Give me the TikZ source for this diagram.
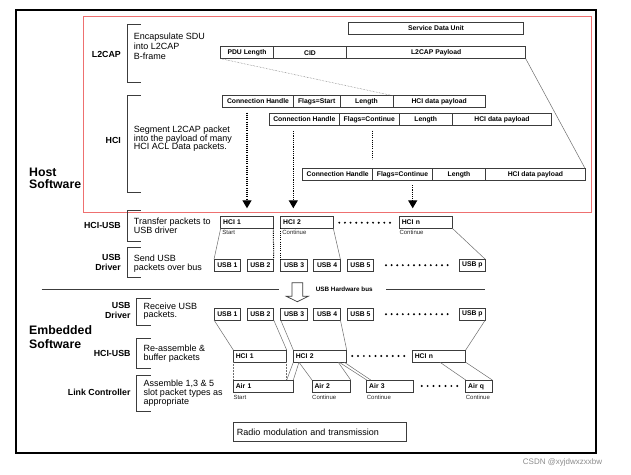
\documentclass[tikz,border=0pt]{standalone}
\usepackage{fontspec}
\setmainfont{Liberation Sans}
\usetikzlibrary{arrows.meta,calc}
\definecolor{redframe}{RGB}{238,112,112}
\definecolor{boxline}{RGB}{60,60,60}
\definecolor{conncol}{RGB}{110,110,110}
\begin{document}
\begin{tikzpicture}[x=1pt,y=-1pt,
 fld/.style={draw=boxline, line width=0.75pt, inner sep=0pt, outer sep=0pt, anchor=north west, font=\bfseries\fontsize{6.8}{8}\selectfont},
 lfld/.style={fld, align=left, inner xsep=2.5pt},
 small/.style={inner sep=0pt, anchor=north west, text=black!85, font=\fontsize{6}{7}\selectfont},
 sect/.style={inner sep=0pt, align=right, font=\bfseries\fontsize{8.8}{9.8}\selectfont},
 desc/.style={inner sep=0pt, anchor=north west, align=left, font=\fontsize{9}{8.7}\selectfont},
 big/.style={inner sep=0pt, anchor=north west, align=left, font=\bfseries\fontsize{12.3}{12}\selectfont},
 brk/.style={draw=boxline, line width=0.8pt},
 conn/.style={draw=conncol, line width=0.5pt},
 dconn/.style={conn, densely dotted},
 blkdot/.style={draw=black, line width=1.1pt, dash pattern=on 1.1pt off 1.1pt},
 dotarrow/.style={blkdot, line width=1.3pt, -{Triangle[width=9pt,length=8pt]}},
]
\fill[white] (0,0) rectangle (631,474);
\useasboundingbox (0,0) rectangle (631,474);

% frames
\draw[black, line width=1.1pt] (16,10) rectangle (596,453);
\draw[redframe, line width=0.9pt] (83,16) rectangle (591,212.7);

% big labels
\node[big] (host) at (29,167.6) {Host\\Software};
\node[big, font=\bfseries\fontsize{12.3}{13.3}\selectfont] (emb) at (29,325.6) {Embedded\\Software};

% section labels (host)
\node[sect, anchor=east] (sl2cap) at (121,54) {L2CAP};
\node[sect, anchor=east] (shci) at (121,140) {HCI};
\node[sect, anchor=east] (shciusb) at (121,225.7) {HCI-USB};
\node[sect, anchor=north east] (susbdrv) at (121,254.3) {USB\\Driver};
% section labels (embedded)
\node[sect, anchor=north east] (eusbdrv) at (130.7,302.6) {USB\\Driver};
\node[sect, anchor=east] (ehciusb) at (130.7,353.3) {HCI-USB};
\node[sect, anchor=east] (elc) at (130.7,392.7) {Link Controller};

% brackets
\draw[brk] (140.7,24.7) -- (127.7,24.7) -- (127.7,82.7) -- (140.7,82.7);
\draw[brk] (140.7,95.7) -- (127.7,95.7) -- (127.7,192.3) -- (140.7,192.3);
\draw[brk] (140.7,210) -- (127.7,210) -- (127.7,241) -- (140.7,241);
\draw[brk] (140.7,247.3) -- (127.7,247.3) -- (127.7,277.3) -- (140.7,277.3);
\draw[brk] (150.7,298) -- (136.7,298) -- (136.7,325.7) -- (150.7,325.7);
\draw[brk] (150.7,338.3) -- (136.7,338.3) -- (136.7,368.3) -- (150.7,368.3);
\draw[brk] (150.7,375) -- (136.7,375) -- (136.7,411) -- (150.7,411);

% descriptions
\node[desc, font=\fontsize{9}{10}\selectfont] (d1) at (133.7,32.4) {Encapsulate SDU\\into L2CAP\\B-frame};
\node[desc] (d2) at (133.7,125.7) {Segment L2CAP packet\\into the payload of many\\HCI ACL Data packets.};
\node[desc, font=\fontsize{9}{8}\selectfont] (d3) at (133.7,217.4) {Transfer packets to\\USB driver};
\node[desc] (d4) at (133.7,255) {Send USB\\packets over bus};
\node[desc] (d5) at (143.3,302.4) {Receive USB\\packets.};
\node[desc, font=\fontsize{9}{8.4}\selectfont] (d6) at (143.3,345) {Re-assemble \&\\buffer packets};
\node[desc] (d7) at (143.3,380) {Assemble 1,3 \& 5\\slot packet types as\\appropriate};

% L2CAP frame
\node[fld, minimum width=175.4pt, minimum height=12.4pt] (sdu) at (348.3,22.3) {Service Data Unit};
\node[fld, minimum width=52.6pt, minimum height=12pt] (pdu) at (220.7,46.7) {PDU Length};
\node[fld, minimum width=73.4pt, minimum height=12pt] (cid) at (273.3,46.7) {CID};
\node[fld, minimum width=179pt, minimum height=12pt] (lpay) at (346.7,46.7) {L2CAP Payload};

% HCI rows
\node[fld, minimum width=70.6pt, minimum height=11.6pt] (r1ch) at (222.7,95.7) {Connection Handle};
\node[fld, minimum width=46.7pt, minimum height=11.6pt] (r1fl) at (293.3,95.7) {Flags=Start};
\node[fld, minimum width=53pt, minimum height=11.6pt] (r1len) at (340,95.7) {Length};
\node[fld, minimum width=92.3pt, minimum height=11.6pt] (r1pay) at (393,95.7) {HCI data payload};

\node[fld, minimum width=70pt, minimum height=12.4pt] (r2ch) at (269.3,113.3) {Connection Handle};
\node[fld, minimum width=60pt, minimum height=12.4pt] (r2fl) at (339.3,113.3) {Flags=Continue};
\node[fld, minimum width=53pt, minimum height=12.4pt] (r2len) at (399.3,113.3) {Length};
\node[fld, minimum width=99.4pt, minimum height=12.4pt] (r2pay) at (452.3,113.3) {HCI data payload};

\node[fld, minimum width=70pt, minimum height=12pt] (r3ch) at (302.7,168.3) {Connection Handle};
\node[fld, minimum width=59.6pt, minimum height=12pt] (r3fl) at (372.7,168.3) {Flags=Continue};
\node[fld, minimum width=53.4pt, minimum height=12pt] (r3len) at (432.3,168.3) {Length};
\node[fld, minimum width=99.3pt, minimum height=12pt] (r3pay) at (485.7,168.3) {HCI data payload};

\draw[dconn] (pdu.south west) -- (r1pay.north west);
\draw[conn] (lpay.south east) -- (r3pay.north east);

% dotted arrows
\coordinate (a1s) at (247,112.7); \coordinate (a1e) at (247,208.3);
\coordinate (a2s) at (293.3,131); \coordinate (a2e) at (293.3,208.3);
\coordinate (a3s) at (412.7,185); \coordinate (a3e) at (412.7,208.3);
\coordinate (v1s) at (372.7,130.7); \coordinate (v1e) at (372.7,159.3);
\draw[dotarrow] (a1s) -- (a1e);
\draw[dotarrow] (a2s) -- (a2e);
\draw[dotarrow] (a3s) -- (a3e);
\draw[blkdot, line width=1.3pt] (v1s) -- (v1e);

% host HCI-USB
\node[lfld, text width=47.6pt, minimum height=11.6pt] (hh1) at (220.7,216.7) {HCI 1};
\node[lfld, text width=47.6pt, minimum height=11.6pt] (hh2) at (280.7,216.7) {HCI 2};
\node[lfld, text width=48pt, minimum height=11.6pt] (hhn) at (399.3,216.7) {HCI n};
\node[small] (hh1l) at ([xshift=1.5pt,yshift=-2pt]hh1.south west) {Start};
\node[small] (hh2l) at ([xshift=1.5pt,yshift=-2pt]hh2.south west) {Continue};
\node[small] (hhnl) at ([xshift=0pt,yshift=-2pt]hhn.south west) {Continue};
\foreach \i in {0,...,9} \fill (339.3+\i*5.63,222.7) circle (1.1);

% host USB
\foreach \n/\x in {1/214,2/247,3/280.7,4/313.7,5/347}
  \node[fld, minimum width=26.7pt, minimum height=11.7pt] (ua\n) at (\x,259.3) {USB \n};
\node[fld, minimum width=26pt, minimum height=11.7pt] (uap) at (459.3,259.3) {USB p};
\foreach \i in {0,...,11} \fill (386+\i*5.6,265.2) circle (1.1);

\draw[conn] (hh1.south west) -- (ua1.north west);
\draw[blkdot, line width=1pt] (hh1.south east) -- (ua2.north east);
\draw[blkdot, line width=1pt] (hh2.south west) -- (ua3.north west);
\draw[conn] (hh2.south east) -- (ua4.north east);
\draw[conn] (hhn.south east) -- (uap.north east);

% separator and hardware bus
\coordinate (sepA) at (41.7,289); \coordinate (sepB) at (279.3,289);
\coordinate (sepC) at (386,289); \coordinate (sepD) at (485.3,289);
\draw[brk, line width=0.7pt] (sepA) -- (sepB);
\draw[brk, line width=0.7pt] (sepC) -- (sepD);
\node[inner sep=0pt, font=\bfseries\fontsize{6.3}{7}\selectfont] (hwbus) at (344.3,289) {USB Hardware bus};
\draw[boxline, line width=0.7pt, fill=white] (292,282.7) -- (302.7,282.7) -- (302.7,296.3) -- (308.3,296.3) -- (297.3,301.7) -- (286.3,296.3) -- (292,296.3) -- cycle;

% embedded USB
\foreach \n/\x in {1/214,2/247,3/280.7,4/313.7,5/347}
  \node[fld, minimum width=26.7pt, minimum height=11.7pt] (ub\n) at (\x,308.3) {USB \n};
\node[fld, minimum width=26pt, minimum height=11.7pt] (ubp) at (459.3,308.3) {USB p};
\foreach \i in {0,...,11} \fill (386+\i*5.6,314.2) circle (1.1);

% embedded HCI
\node[lfld, text width=48.4pt, minimum height=12.3pt] (eh1) at (233.3,350) {HCI 1};
\node[lfld, text width=48.4pt, minimum height=12.3pt] (eh2) at (293.3,350) {HCI 2};
\node[lfld, text width=48.4pt, minimum height=12.3pt] (ehn) at (412.3,350) {HCI n};
\foreach \i in {0,...,9} \fill (352.3+\i*5.78,356) circle (1.1);

% air packets
\node[lfld, text width=55pt, minimum height=12.7pt] (air1) at (233.3,380) {Air 1};
\node[lfld, text width=33.7pt, minimum height=12.7pt] (air2) at (312,380) {Air 2};
\node[lfld, text width=41.6pt, minimum height=12.7pt] (air3) at (366.7,380) {Air 3};
\node[lfld, text width=21.6pt, minimum height=12.7pt] (airq) at (465.7,380) {Air q};
\node[small] (air1l) at ([yshift=-2pt]air1.south west) {Start};
\node[small] (air2l) at ([yshift=-2pt]air2.south west) {Continue};
\node[small] (air3l) at ([yshift=-2pt]air3.south west) {Continue};
\node[small] (airql) at ([yshift=-2pt]airq.south west) {Continue};
\foreach \i in {0,...,6} \fill (421.7+\i*5.93,386) circle (1.1);

\draw[conn] (ub1.south west) -- (eh1.north west);
\draw[conn] (ub2.south east) -- (eh1.north east);
\draw[conn] (ub3.south west) -- (eh2.north west);
\draw[conn] (ub4.south east) -- (eh2.north east);
\draw[conn] (ubp.south east) -- (ehn.north east);

\draw[dconn] (eh1.south west) -- (air1.north west);
\draw[dconn] (eh1.south east) -- (eh1.south east |- air1.north);
\draw[conn] (eh2.south west) -- (eh1.south east |- air1.north);
\draw[conn] ([xshift=5.7pt]eh2.south west) -- (air1.north east);
\draw[conn] ([xshift=5.7pt]eh2.south west) -- (air2.north west);
\draw[conn] ([xshift=45pt]eh2.south west) -- (air2.north east);
\draw[conn] ([xshift=46pt]eh2.south west) -- (air3.north west);
\draw[conn] ([xshift=51pt]eh2.south west) -- ([xshift=4pt]air3.north west);
\draw[conn] ([xshift=27.7pt]ehn.south west) -- (airq.north west);
\draw[conn] (ehn.south east) -- (airq.north east);

% radio
\node[fld, anchor=north west, minimum width=173.4pt, minimum height=19pt, text width=166.4pt, align=left, inner xsep=3.5pt, font=\fontsize{9}{10}\selectfont] (radio) at (233.3,422.7) {Radio modulation and transmission};

% watermark
\node[inner sep=0pt, anchor=west, text=black!45, font=\fontsize{8}{9}\selectfont] (wm) at (522.7,462.7) {CSDN @xyjdwxzxxbw};
\end{tikzpicture}
\end{document}
